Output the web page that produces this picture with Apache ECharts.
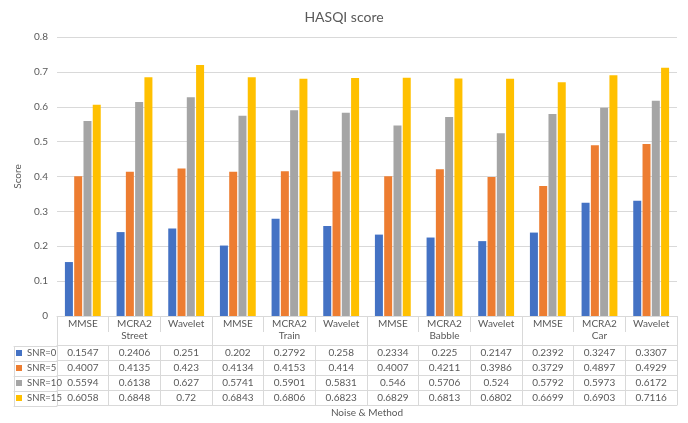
<!DOCTYPE html>
<html>
<head>
<meta charset="utf-8">
<script src="https://cdn.jsdelivr.net/npm/echarts@6/dist/echarts.min.js"></script>
<style>
  html, body { margin: 0; padding: 0; background: #fff; }
  #chart { width: 688px; height: 423px; }
</style>
</head>
<body>
<div id="chart"></div>
<script>
// Methods evaluated under each noise type
var methods = ['MMSE', 'MCRA2', 'Wavelet', 'MMSE', 'MCRA2', 'Wavelet', 'MMSE', 'MCRA2', 'Wavelet', 'MMSE', 'MCRA2', 'Wavelet'];
var noises = ['Street', 'Train', 'Babble', 'Car'];
var seriesNames = ['SNR=0', 'SNR=5', 'SNR=10', 'SNR=15'];
var yTicks = [0, 0.1, 0.2, 0.3, 0.4, 0.5, 0.6, 0.7, 0.8];

// HASQI scores per SNR level
var snr0  = [0.1547, 0.2406, 0.251, 0.202, 0.2792, 0.258, 0.2334, 0.225, 0.2147, 0.2392, 0.3247, 0.3307];
var snr5  = [0.4007, 0.4135, 0.423, 0.4134, 0.4153, 0.414, 0.4007, 0.4211, 0.3986, 0.3729, 0.4897, 0.4929];
var snr10 = [0.5594, 0.6138, 0.627, 0.5741, 0.5901, 0.5831, 0.546, 0.5706, 0.524, 0.5792, 0.5973, 0.6172];
var snr15 = [0.6058, 0.6848, 0.72, 0.6843, 0.6806, 0.6823, 0.6829, 0.6813, 0.6802, 0.6699, 0.6903, 0.7116];

var rows = [snr0, snr5, snr10, snr15];
var colors = ['#4472C4', '#ED7D31', '#A5A5A5', '#FFC000'];

var FONT = 'Lato, "Liberation Sans", sans-serif';
var TXT = '#595959';
var LINE = '#d9d9d9';
var ROW_H = 15;
var HEADER_H = 29;

var xAxes = [];
// Method row (first header row of the data table)
xAxes.push({
  type: 'category', gridIndex: 0, data: methods, position: 'bottom',
  axisLine: { show: true, onZero: false, lineStyle: { color: LINE } },
  axisTick: { show: true, interval: 0, length: 16, lineStyle: { color: LINE } },
  axisLabel: { interval: 0, margin: 3, color: TXT, fontSize: 10, fontFamily: FONT }
});
// Noise row (second header row)
xAxes.push({
  type: 'category', gridIndex: 0, data: noises, position: 'bottom',
  axisLine: { show: false, onZero: false },
  axisTick: { show: true, interval: 0, length: HEADER_H, lineStyle: { color: LINE } },
  axisLabel: { interval: 0, margin: 15, color: TXT, fontSize: 10, fontFamily: FONT }
});
// One table row per series, each drawn as an offset category axis
rows.forEach(function (r, i) {
  xAxes.push({
    type: 'category', gridIndex: 0, position: 'bottom',
    data: r.map(function (v) { return String(v); }),
    offset: HEADER_H + i * ROW_H,
    axisLine: { show: true, onZero: false, lineStyle: { color: LINE } },
    axisTick: { show: true, interval: 0, length: ROW_H, lineStyle: { color: LINE } },
    axisLabel: { interval: 0, margin: 3, color: TXT, fontSize: 10, fontFamily: FONT }
  });
});
// Closing line of the table, carrying the axis title
xAxes.push({
  type: 'category', gridIndex: 0, position: 'bottom', data: methods,
  offset: HEADER_H + 4 * ROW_H,
  axisLine: { show: true, onZero: false, lineStyle: { color: LINE } },
  axisTick: { show: false }, axisLabel: { show: false },
  name: 'Noise & Method', nameLocation: 'middle', nameGap: 3,
  nameTextStyle: { color: TXT, fontSize: 10, fontFamily: FONT }
});
// Legend-key column of the table (separate narrow grid)
for (var k = 0; k <= 4; k++) {
  xAxes.push({
    type: 'category', gridIndex: 1, position: 'bottom', data: [''],
    offset: HEADER_H + k * ROW_H,
    axisLine: { show: true, onZero: false, lineStyle: { color: LINE } },
    axisTick: { show: k < 4, interval: 0, length: ROW_H, lineStyle: { color: LINE } },
    axisLabel: { show: false }
  });
}

var chart = echarts.init(document.getElementById('chart'), null, { renderer: 'canvas' });
chart.setOption({
  animation: false,
  backgroundColor: '#ffffff',
  color: colors,
  title: {
    text: 'HASQI score', left: 'center', top: 5,
    textStyle: { color: TXT, fontSize: 14, fontWeight: 'normal', fontFamily: FONT }
  },
  legend: {
    data: seriesNames, orient: 'vertical', left: 16, top: 347, padding: 0,
    icon: 'rect', itemWidth: 6, itemHeight: 6, itemGap: 3,
    textStyle: { color: TXT, fontSize: 9.5, lineHeight: 12, fontFamily: FONT },
    selectedMode: false
  },
  grid: [
    { left: 57, right: 11, top: 37, bottom: 106 },
    { left: 14, width: 43, top: 37, bottom: 106 }
  ],
  xAxis: xAxes,
  yAxis: [
    {
      type: 'value', gridIndex: 0, min: yTicks[0], max: yTicks[yTicks.length - 1], interval: 0.1,
      axisLine: { show: false }, axisTick: { show: false },
      splitLine: { lineStyle: { color: LINE } },
      axisLabel: { color: TXT, fontSize: 10, fontFamily: FONT, margin: 9 },
      name: 'Score', nameLocation: 'middle', nameGap: 34, nameRotate: 90,
      nameTextStyle: { color: TXT, fontSize: 10, fontFamily: FONT }
    },
    { type: 'value', gridIndex: 1, show: false }
  ],
  series: rows.map(function (r, i) {
    return {
      name: seriesNames[i], type: 'bar', xAxisIndex: 0, yAxisIndex: 0,
      data: r, barWidth: 8, barGap: '16%',
      itemStyle: { color: colors[i] }
    };
  })
});
</script>
</body>
</html>
